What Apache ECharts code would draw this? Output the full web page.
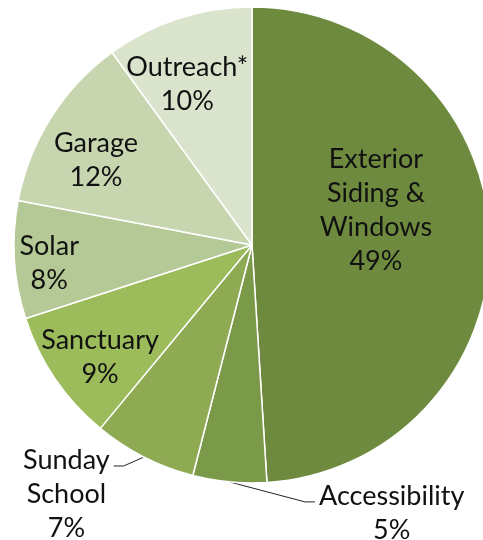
<!DOCTYPE html>
<html>
<head>
<meta charset="utf-8">
<script src="https://cdn.jsdelivr.net/npm/echarts@6/dist/echarts.min.js"></script>
<style>
html, body { margin: 0; background: #fff; }
#chart { width: 483px; height: 540px; }
</style>
</head>
<body>
<div id="chart"></div>
<script>
// clockwise from 12 o'clock
const categories = ['Exterior\nSiding &\nWindows', 'Accessibility', 'Sunday\nSchool', 'Sanctuary', 'Solar', 'Garage', 'Outreach*'];
const shares = [49, 5, 7, 9, 8, 12, 10];
const colors = ['#6e8a3e', '#7b9a49', '#8eab54', '#9cbb5a', '#b4c995', '#c8d6b0', '#dae3cc'];
const outsideLabels = ['Accessibility', 'Sunday\nSchool'];

// nudges so labels sit where excel put them (same order as categories)
const labelShift = [[2, -31], [178, 21], [-58, 28], [-51, 44], [-81, 11], [-53, -19], [-27, -45]];

const chart = echarts.init(document.getElementById('chart'));

const pieData = categories.map((name, i) => {
    const item = { name: name, value: shares[i], itemStyle: { color: colors[i] } };
    if (outsideLabels.indexOf(name) >= 0) {
        item.label = { position: 'outside' };
        item.labelLine = { show: true };
    }
    return item;
});

chart.setOption({
    animation: false,
    series: [{
        type: 'pie',
        center: [252, 245],
        radius: 238,
        startAngle: 90,
        clockwise: true,
        avoidLabelOverlap: false,
        itemStyle: { borderColor: '#fff', borderWidth: 1.5 },
        label: {
            show: true,
            position: 'inside',
            formatter: '{b}\n{c}%',
            fontFamily: 'Lato',
            fontSize: 27,
            lineHeight: 34,
            color: '#111',
            align: 'center'
        },
        labelLine: {
            show: false,
            length: 10,
            length2: 10,
            lineStyle: { color: '#222', width: 1 }
        },
        labelLayout: function (p) {
            const s = labelShift[p.dataIndex] || [0, 0];
            const out = { dx: s[0], dy: s[1], align: 'center' };
            const pts = p.labelLinePoints;
            if (pts && outsideLabels.indexOf(categories[p.dataIndex]) >= 0) {
                // label was right aligned, now centred and shifted
                const r = p.labelRect;
                const left = r.x + r.width / 2 + s[0];
                const right = left + r.width;
                const y = r.y + s[1] + 23;
                const start = pts[0];
                if (start[0] < left) {
                    out.labelLinePoints = [start, [left - 14, y], [left - 4, y]];
                } else {
                    out.labelLinePoints = [start, [right + 14, y], [right + 4, y]];
                }
            }
            return out;
        },
        emphasis: { disabled: true },
        data: pieData
    }]
});
</script>
</body>
</html>
